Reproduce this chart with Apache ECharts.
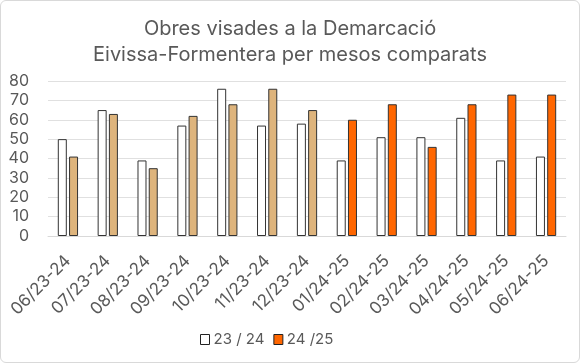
<!DOCTYPE html>
<html><head><meta charset="utf-8">
<script src="https://cdn.jsdelivr.net/npm/echarts@6/dist/echarts.min.js"></script>
<style>html,body{margin:0;padding:0;background:#fff}
#c{position:absolute;left:0;top:0;width:578px;height:361px;border:1px solid #d9d9d9;border-radius:6px}</style>
</head><body><div id="c"></div>
<script>
const categories = ['06/23-24','07/23-24','08/23-24','09/23-24','10/23-24','11/23-24','12/23-24','01/24-25','02/24-25','03/24-25','04/24-25','05/24-25','06/24-25'];
const series2324 = [50,65,39,57,76,57,58,39,51,51,61,39,41];
const series2425 = [41,63,35,62,68,76,65,60,68,46,68,73,73];
const yTicks = [0,10,20,30,40,50,60,70,80];
const tanCount = 7;

const chart = echarts.init(document.getElementById('c'), null, {renderer:'canvas'});
const font = 'Inter, "Noto Sans", sans-serif';
chart.setOption({
  animation:false,
  title:{text:'Obres visades a la Demarcació\nEivissa-Formentera per mesos comparats',left:'center',top:10,
    textStyle:{fontFamily:font,fontSize:20,fontWeight:'normal',color:'#595959',lineHeight:26}},
  grid:{left:47,right:13,top:80,bottom:126},
  legend:{bottom:10,left:194,itemWidth:9,itemHeight:10,itemGap:9,icon:'rect',
    textStyle:{fontFamily:font,fontSize:15,color:'#595959',padding:[0,0,0,-1]},
    data:[{name:'23 / 24',itemStyle:{color:'#fff',borderColor:'#222',borderWidth:1}},{name:'24 /25',itemStyle:{color:'#ff6600',borderColor:'#222',borderWidth:1}}]},
  xAxis:{type:'category',data:categories,
    axisLine:{lineStyle:{color:'#d9d9d9'}},axisTick:{show:false},
    axisLabel:{rotate:45,interval:0,fontFamily:font,fontSize:17,color:'#595959',margin:22}},
  yAxis:{type:'value',min:yTicks[0],max:yTicks[yTicks.length-1],interval:10,
    axisLabel:{fontFamily:font,fontSize:16,color:'#595959',margin:19},
    splitLine:{lineStyle:{color:'#e0e0e0'}},axisLine:{show:false},axisTick:{show:false}},
  series:[
    {name:'23 / 24',type:'bar',data:series2324,barWidth:9,barGap:'25%',
     itemStyle:{color:'#fff',borderColor:'#333',borderWidth:1}},
    {name:'24 /25',type:'bar',barWidth:9,
     data:series2425.map((v,i)=>({value:v,itemStyle:{color:i<tanCount?'#deb47c':'#ff6600'}})),
     itemStyle:{color:'#ff6600',borderColor:'#333',borderWidth:1}}
  ]
});
</script></body></html>
